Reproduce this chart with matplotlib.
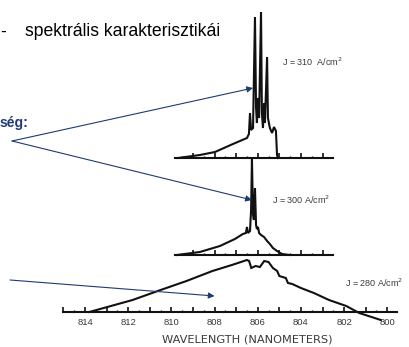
import matplotlib
matplotlib.use('Agg')
import matplotlib.pyplot as plt
from matplotlib.ticker import MultipleLocator, FuncFormatter

W, H = 410, 347

# J = 310 A/cm2 (top trace), wavelength in nm, intensity in arbitrary units
wl_310 = [809.69, 808.68, 807.98, 807.15, 806.50, 806.41, 806.36, 806.31, 806.22,
          806.13, 806.08, 806.04, 805.99, 805.94, 805.85, 805.81, 805.76, 805.71,
          805.67, 805.57, 805.53, 805.44, 805.34, 805.25, 805.16, 805.11, 805.07]
int_310 = [0, 3, 6, 14, 20, 24, 45, 28, 30, 141, 50, 35, 60, 40, 146, 45, 30, 55,
           35, 101, 40, 30, 25, 31, 27, 3, 0]

# J = 300 A/cm2 (middle trace)
wl_300 = [809.74, 808.68, 807.75, 807.06, 806.69, 806.55, 806.50, 806.45, 806.36,
          806.31, 806.27, 806.22, 806.18, 806.13, 806.08, 806.04, 805.99, 805.94,
          805.85, 805.71, 805.57, 805.44, 805.30, 805.11, 804.88, 804.51]
int_300 = [0, 3, 9, 16, 21, 22, 28, 22, 24, 45, 96, 40, 35, 67, 30, 26, 28, 22,
           20, 18, 14, 11, 7, 4, 1, 0]

# J = 280 A/cm2 (bottom trace)
wl_280 = [813.8, 812.8, 811.8, 810.5, 809.3, 808.1, 807.2, 806.5, 806.4, 806.3,
          806.1, 805.9, 805.7, 805.5, 805.3, 805.1, 805.0, 804.7, 804.6, 804.4,
          804.0, 803.4, 802.7, 801.9, 801.3, 800.3]
int_280 = [0, 6, 12, 22, 31, 41, 47, 52, 51, 44, 46, 45, 51, 50, 44, 41, 36, 34,
           29, 28, 24, 19, 12, 6, -1, -8]

labels = ["J = 310  A/cm$^{2}$", "J = 300 A/cm$^{2}$", "J = 280 A/cm$^{2}$"]

navy = '#1f3b73'
ink = '#111111'
grey = '#3a3a3a'

plt.rcParams['font.family'] = ['Liberation Sans', 'DejaVu Sans']

fig = plt.figure(figsize=(W / 100, H / 100), dpi=100)
fig.patch.set_facecolor('white')


def fpos(x, y):
    return x / W, 1 - y / H


def spectrum_axes(x0, x1, ytop, ybot, xlim, ylim):
    ax = fig.add_axes([x0 / W, 1 - ybot / H, (x1 - x0) / W, (ybot - ytop) / H])
    ax.set_xlim(*xlim)
    ax.set_ylim(*ylim)
    ax.patch.set_visible(False)
    for s in ('top', 'left', 'right'):
        ax.spines[s].set_visible(False)
    ax.spines['bottom'].set_position(('data', 0))
    ax.spines['bottom'].set_linewidth(1.5)
    ax.spines['bottom'].set_color(ink)
    ax.yaxis.set_visible(False)
    ax.xaxis.set_major_locator(MultipleLocator(1))
    ax.xaxis.set_minor_locator(MultipleLocator(0.5))
    ax.tick_params(axis='x', which='major', direction='in', length=3.8, width=1.2, color=ink)
    ax.tick_params(axis='x', which='minor', direction='in', length=1.8, width=1.0, color=ink)
    return ax


ax_top = spectrum_axes(175, 333, 8, 158, (809.83, 802.52), (0, 150))
ax_mid = spectrum_axes(175, 333, 155, 255, (809.83, 802.52), (0, 100))
ax_bot = spectrum_axes(63, 397, 252, 332, (815.02, 799.55), (-20, 60))

ax_top.set_xticklabels([])
ax_mid.set_xticklabels([])
ax_bot.xaxis.set_major_formatter(
    FuncFormatter(lambda v, p: f"{v:.0f}" if round(v) % 2 == 0 else ""))
ax_bot.tick_params(axis='x', which='major', labelsize=6.8, labelcolor=grey, pad=4)

for ax, wl, inten in ((ax_top, wl_310, int_310), (ax_mid, wl_300, int_300),
                      (ax_bot, wl_280, int_280)):
    ax.plot(wl, inten, color=ink, lw=1.5, clip_on=False, solid_joinstyle='miter')

# current density labels
fig.text(*fpos(282, 62), labels[0], fontsize=6.5, color=grey, va='center')
fig.text(*fpos(272, 200), labels[1], fontsize=6.5, color=grey, va='center')
fig.text(*fpos(345, 283), labels[2], fontsize=6.5, color=grey, va='center')

fig.text(*fpos(247, 339), "WAVELENGTH (NANOMETERS)", fontsize=8.2, color=grey,
         ha='center', va='center', family='DejaVu Sans')

# slide text
fig.text(*fpos(0, 32), "-", fontsize=12.7, color='black', ha='left', va='center')
fig.text(*fpos(25, 32), "spektrális karakterisztikái", fontsize=12.7, color='black',
         va='center')
fig.text(*fpos(0, 123), "ség:", fontsize=10, color=navy, fontweight='bold', va='center')

# arrows
arrow = dict(arrowstyle='-|>', color=navy, lw=0.8, mutation_scale=9,
             shrinkA=0, shrinkB=0)
ax_top.annotate('', xy=(806.22, 70), xycoords='data', xytext=fpos(12, 141),
                textcoords='figure fraction', arrowprops=arrow, annotation_clip=False)
ax_mid.annotate('', xy=(806.27, 55), xycoords='data', xytext=fpos(12, 141),
                textcoords='figure fraction', arrowprops=arrow, annotation_clip=False)
ax_bot.annotate('', xy=(808.0, 16), xycoords='data', xytext=fpos(10, 280),
                textcoords='figure fraction', arrowprops=arrow, annotation_clip=False)

fig.savefig('out.png', dpi=100)
